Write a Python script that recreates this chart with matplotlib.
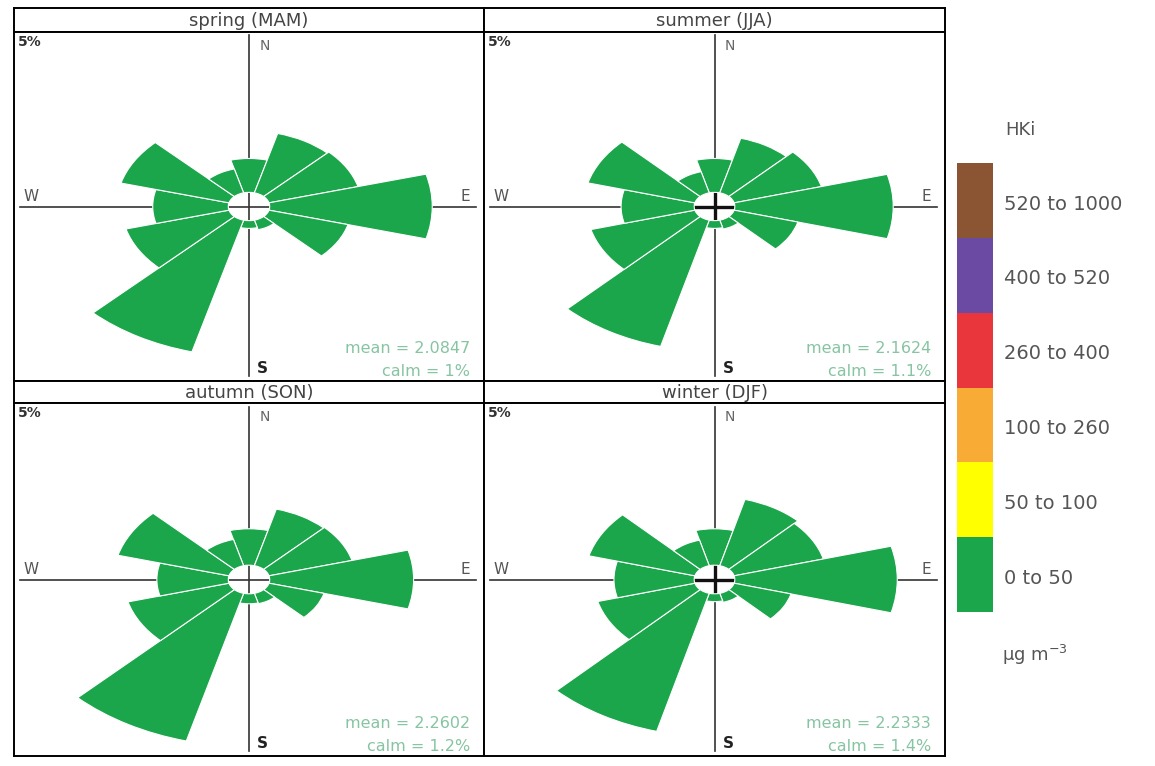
import numpy as np
import matplotlib.pyplot as plt
from matplotlib.patches import Wedge

# figure size in pixels (dpi 100)
W_PX, H_PX = 1155, 766

# wind sectors (degrees from north, clockwise) and frequency (%) per season
directions = np.arange(0, 360, 30)
seasons = ['spring (MAM)', 'summer (JJA)', 'autumn (SON)', 'winter (DJF)']
spring = [4.8, 8.7, 8.9, 15.7, 7.9, 1.4, 1.1, 19.3, 10.3, 7.3, 10.8, 3.5]
summer = [4.8, 8.0, 8.9, 15.6, 6.5, 1.3, 1.1, 18.5, 10.6, 7.2, 10.9, 3.1]
autumn = [5.1, 8.2, 8.3, 13.9, 5.5, 1.5, 1.4, 21.4, 10.1, 6.9, 11.1, 3.8]
winter = [5.1, 9.6, 9.1, 16.0, 5.8, 1.3, 1.1, 20.0, 9.9, 7.9, 10.8, 3.7]
means = ['2.0847', '2.1624', '2.2602', '2.2333']
calms = ['1%', '1.1%', '1.2%', '1.4%']

# concentration bands for the key
bands = ['0 to 50', '50 to 100', '100 to 260', '260 to 400', '400 to 520', '520 to 1000']
band_colors = ['#1ca64c', '#ffff00', '#f8ab35', '#e8363c', '#6a4aa2', '#8b5533']

plt.rcParams['font.family'] = ['DejaVu Sans']

HOLE = 2.0  # radius of the empty centre
XL, YL = 22.7, 24.7


def box(x0, y0, x1, y1):
    return [x0 / W_PX, 1 - y1 / H_PX, (x1 - x0) / W_PX, (y1 - y0) / H_PX]


fig = plt.figure(figsize=(W_PX / 100, H_PX / 100), dpi=100)

cols = [(14, 484), (484, 945)]
rows = [(8, 32, 381), (381, 403, 756)]
data = [spring, summer, autumn, winter]
thick_cross = [False, True, False, True]

for i, (name, freq) in enumerate(zip(seasons, data)):
    x0, x1 = cols[i % 2]
    s0, p0, p1 = rows[i // 2]

    # strip with the season name
    st = fig.add_axes(box(x0, s0, x1, p0))
    st.set_xticks([])
    st.set_yticks([])
    for sp in st.spines.values():
        sp.set_linewidth(1.4)
    st.text(0.5, 0.45, name, ha='center', va='center', fontsize=13,
            color='#444444', transform=st.transAxes)

    ax = fig.add_axes(box(x0, p0, x1, p1))
    ax.set_xlim(-XL, XL)
    ax.set_ylim(-YL, YL)
    ax.set_xticks([])
    ax.set_yticks([])
    for sp in ax.spines.values():
        sp.set_linewidth(1.4)

    # compass cross
    ax.plot([0, 0], [-0.97 * YL, 0.98 * YL], color='#333333', lw=1.2, zorder=1)
    ax.plot([-0.975 * XL, 0.965 * XL], [0, 0], color='#333333', lw=1.2, zorder=1)
    if thick_cross[i]:
        ax.plot([-HOLE * 1.2, HOLE * 1.2], [0, 0], color='#111111', lw=2.4, zorder=1)
        ax.plot([0, 0], [-HOLE * 1.1, HOLE * 1.1], color='#111111', lw=2.4, zorder=1)

    # petals
    for d, f in zip(directions, freq):
        theta = 90 - d
        w = Wedge((0, 0), HOLE + f, theta - 15, theta + 15, width=f,
                  facecolor=band_colors[0], edgecolor='white', lw=0.8, zorder=2)
        ax.add_patch(w)

    ax.text(1.0, 0.92 * YL, 'N', fontsize=10, color='#666666', va='center')
    ax.text(0.8, -0.93 * YL, 'S', fontsize=11, color='#222222',
            fontweight='bold', va='center')
    ax.text(-0.96 * XL, 0.3, 'W', fontsize=11, color='#555555', va='bottom')
    ax.text(0.94 * XL, 0.3, 'E', fontsize=11, color='#555555', va='bottom', ha='right')
    ax.text(0.008, 0.972, '5%', fontsize=10, fontweight='bold', color='#333333',
            transform=ax.transAxes, va='center')
    ax.text(0.97, 0.092, 'mean = ' + means[i], fontsize=11.5, color='#86c4a2',
            ha='right', va='center', transform=ax.transAxes)
    ax.text(0.97, 0.026, 'calm = ' + calms[i], fontsize=11.5, color='#86c4a2',
            ha='right', va='center', transform=ax.transAxes)

# colour key
key = fig.add_axes(box(957, 163, 993, 612))
key.bar(np.zeros(len(bands)), np.ones(len(bands)), bottom=np.arange(len(bands)),
        width=1, color=band_colors, align='edge')
key.set_xlim(0, 1)
key.set_ylim(0, len(bands))
key.axis('off')
for j, lab in enumerate(bands):
    key.text(1.3, j + 0.45, lab, fontsize=14, color='#555555', va='center',
             transform=key.get_yaxis_transform() if False else key.transData)

fig.text(1005 / W_PX, 1 - 130 / H_PX, 'HKi', fontsize=13, color='#555555', va='center')
fig.text(1002 / W_PX, 1 - 655 / H_PX, r'µg m$^{-3}$', fontsize=13, color='#555555',
         va='center')

fig.savefig('out.png', dpi=100)
